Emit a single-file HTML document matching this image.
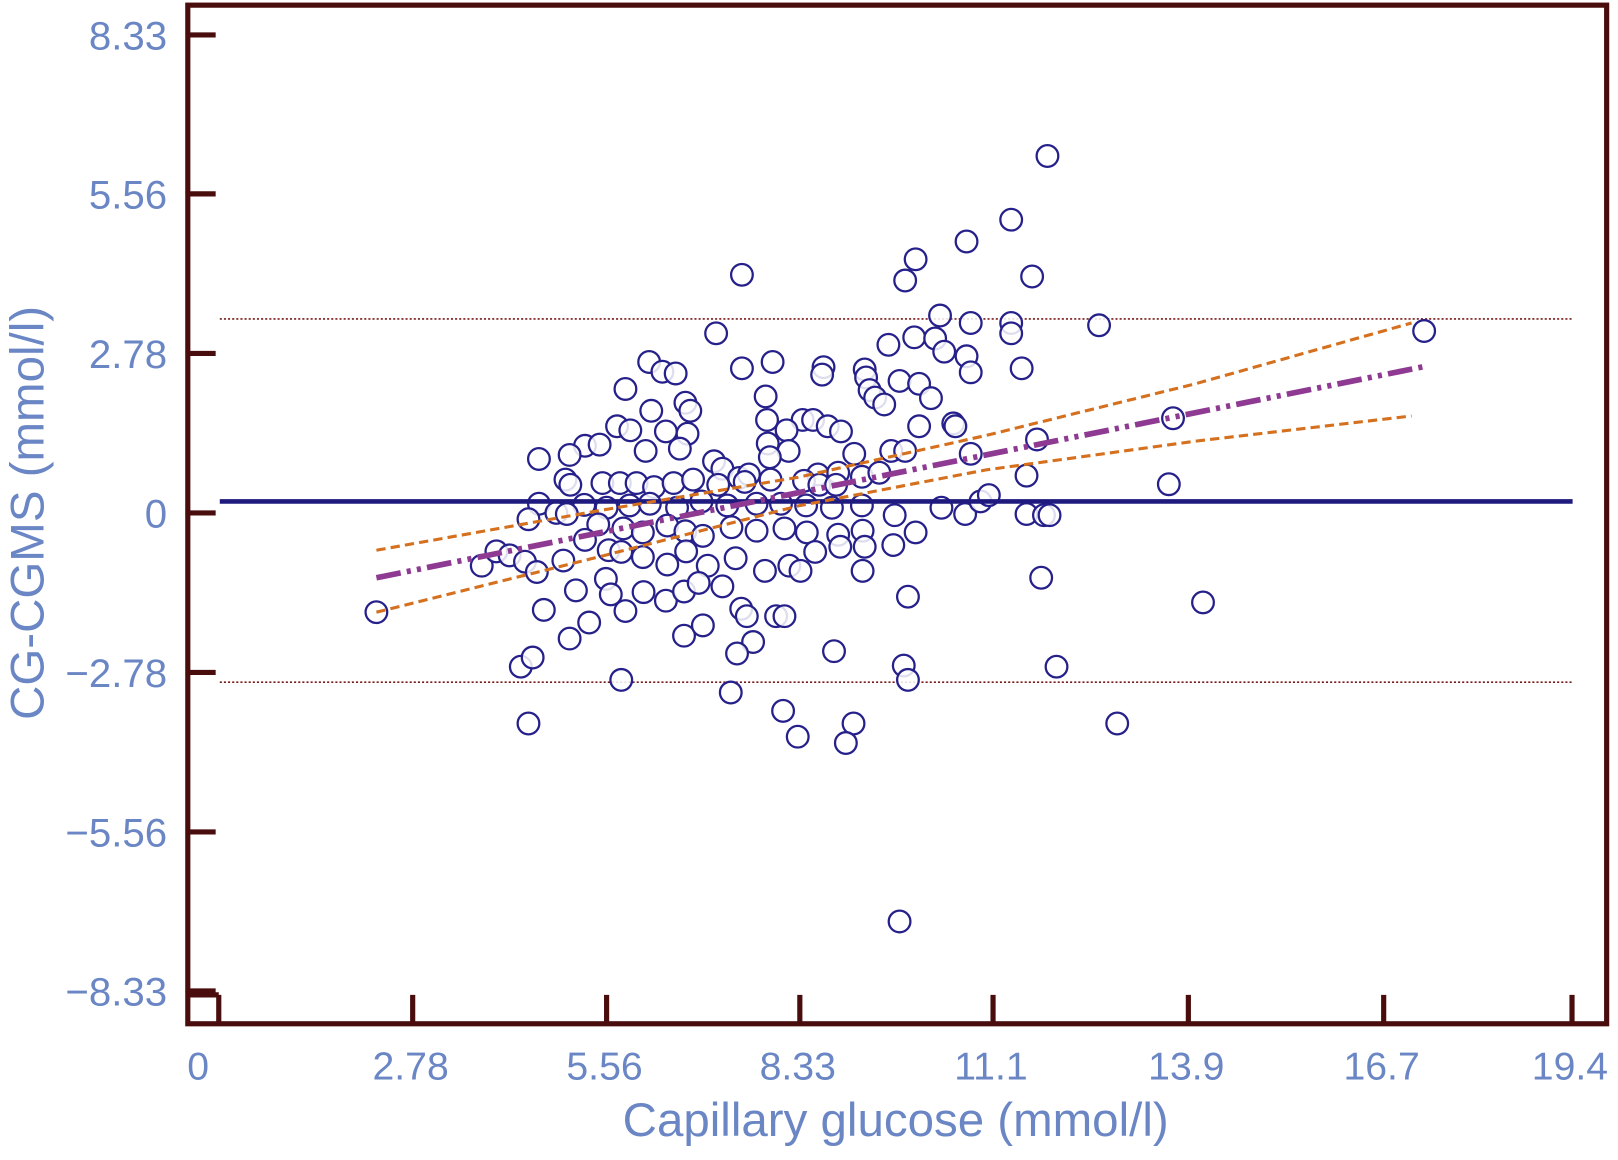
<!DOCTYPE html>
<html><head><meta charset="utf-8"><style>
html,body{margin:0;padding:0;background:#fff;}
svg{display:block;}
text{font-family:"Liberation Sans",sans-serif;fill:#6a86c4;}
</style></head><body>
<svg id="chart" width="1618" height="1160" viewBox="0 0 1568 1124" preserveAspectRatio="none" xmlns="http://www.w3.org/2000/svg">
<g id="g"></g>
</svg>
<script>
const xTicks=[0,2.78,5.56,8.33,11.1,13.9,16.7,19.4];
const xTickLabels=["0","2.78","5.56","8.33","11.1","13.9","16.7","19.4"];
const yTicks=[8.33,5.56,2.78,0,-2.78,-5.56,-8.33];
const yTickLabels=["8.33","5.56","2.78","0","\u22122.78","\u22125.56","\u22128.33"];
const meanDiff=0.2;
const upperLimit=3.38;
const lowerLimit=-2.95;
const regX=[2.26,17.28];
const regY=[-1.13,2.55];
const ciX=[2.26,5.5,8.3,11,14,17.1];
const ciUpper=[-0.65,0.05,0.62,1.35,2.25,3.31];
const ciLower=[-1.73,-0.75,0.12,0.75,1.25,1.69];
const ptX=[11.88,11.36,10.72,9.99,9.84,7.50,11.66,10.34,10.78,11.36,11.36,12.62,17.28,7.13,9.97,9.60,10.27,10.40,10.72,10.78,11.51,6.17,6.36,6.55,7.94,7.50,8.67,8.65,9.26,9.28,9.76,10.04,9.33,9.41,9.54,10.21,5.83,7.84,6.69,6.76,6.20,10.04,10.53,10.56,13.68,5.71,5.90,7.86,8.37,8.52,8.73,8.92,6.41,6.72,8.14,5.25,5.46,6.12,6.61,7.87,8.17,5.03,4.59,9.11,9.64,9.84,10.78,11.73,7.10,7.22,7.46,7.90,7.60,8.59,8.88,4.97,5.04,5.50,5.75,5.99,6.24,6.52,6.80,7.16,7.54,7.91,8.39,8.61,8.85,9.22,9.47,11.58,13.62,4.59,4.84,5.24,5.56,5.89,6.18,6.57,6.92,7.29,7.71,8.06,8.42,8.79,9.22,9.69,10.36,10.70,10.92,11.04,11.58,11.83,11.91,4.44,4.99,5.44,5.80,6.08,6.43,6.69,6.94,7.35,7.71,8.11,8.43,8.88,9.23,9.67,9.99,3.77,3.98,4.17,4.39,4.56,4.94,5.25,5.59,5.77,6.08,6.43,6.70,7.01,7.41,7.83,8.18,8.55,8.91,9.26,5.12,5.55,5.62,5.83,6.09,6.41,6.67,6.88,7.22,7.49,7.57,7.99,8.11,8.34,9.23,9.88,11.79,14.11,4.66,5.03,5.31,6.67,6.94,7.66,7.43,8.82,2.26,4.33,4.50,5.77,7.34,9.82,9.88,12.01,4.44,8.09,8.30,9.10,8.99,12.88,9.76];
const ptY=[6.22,5.11,4.73,4.42,4.05,4.15,4.12,3.44,3.31,3.31,3.13,3.27,3.17,3.13,3.06,2.93,3.04,2.81,2.73,2.45,2.52,2.63,2.46,2.43,2.63,2.52,2.54,2.41,2.50,2.36,2.30,2.25,2.14,2.01,1.89,2.00,2.16,2.03,1.92,1.78,1.78,1.51,1.56,1.51,1.65,1.51,1.44,1.62,1.62,1.62,1.51,1.42,1.42,1.38,1.44,1.17,1.19,1.08,1.12,1.21,1.08,1.01,0.94,1.03,1.08,1.08,1.03,1.28,0.90,0.77,0.61,0.97,0.67,0.67,0.70,0.58,0.49,0.52,0.52,0.52,0.45,0.52,0.58,0.49,0.54,0.58,0.56,0.49,0.49,0.63,0.70,0.65,0.50,0.16,0,0.14,0.09,0.13,0.16,0.09,0.20,0.13,0.16,0.16,0.13,0.09,0.13,-0.04,0.09,-0.02,0.20,0.31,-0.02,-0.04,-0.04,-0.11,-0.02,-0.20,-0.27,-0.34,-0.22,-0.32,-0.40,-0.25,-0.31,-0.27,-0.34,-0.38,-0.31,-0.56,-0.34,-0.92,-0.67,-0.74,-0.85,-1.03,-0.83,-0.47,-0.65,-0.68,-0.77,-0.90,-0.67,-0.92,-0.79,-1.01,-0.92,-0.68,-0.59,-0.59,-1.35,-1.15,-1.42,-1.71,-1.38,-1.53,-1.37,-1.22,-1.28,-1.67,-1.80,-1.80,-1.80,-1.01,-1.01,-1.46,-1.13,-1.56,-1.69,-2.19,-1.91,-2.14,-1.96,-2.25,-2.45,-2.41,-1.73,-2.68,-2.52,-2.91,-3.13,-2.66,-2.91,-2.68,-3.67,-3.45,-3.90,-3.67,-4.01,-3.67,-7.12];

const NS='http://www.w3.org/2000/svg';
const g=document.getElementById('g');
const X0=212,XS=67.6,Y0=497,YS=55.6;
const sx=v=>X0+v*XS, sy=v=>Y0-v*YS;
function mk(tag,attrs){const e=document.createElementNS(NS,tag);for(const k in attrs)e.setAttribute(k,attrs[k]);g.appendChild(e);return e;}

let e=mk('line',{x1:213,x2:1524,y1:sy(upperLimit),y2:sy(upperLimit),stroke:'#7a1a1a','stroke-width':1.6,'stroke-dasharray':'2 2'});


e=mk('line',{x1:213,x2:1524,y1:sy(lowerLimit),y2:sy(lowerLimit),stroke:'#7a1a1a','stroke-width':1.6,'stroke-dasharray':'2 2'});



for(let i=0;i<ptX.length;i++){
  const c=mk('circle',{cx:sx(ptX[i]),cy:sy(ptY[i]),r:10.5,fill:'#fff','fill-opacity':0.85,stroke:'#26208a','stroke-width':2.2});
  
  
}
e=mk('line',{x1:213,x2:1524,y1:sy(meanDiff),y2:sy(meanDiff),stroke:'#1e1a7e','stroke-width':4.5});


const pts=(xs,ys)=>xs.map((v,i)=>sx(v)+','+sy(ys[i])).join(' ');
e=mk('polyline',{points:pts(ciX,ciUpper),fill:'none',stroke:'#d4701e','stroke-width':3,'stroke-dasharray':'9 5'});


e=mk('polyline',{points:pts(ciX,ciLower),fill:'none',stroke:'#d4701e','stroke-width':3,'stroke-dasharray':'9 5'});


e=mk('polyline',{points:pts(regX,regY),fill:'none',stroke:'#8e3a92','stroke-width':5.5,'stroke-dasharray':'24 6 4 6 4 6'});



e=mk('rect',{x:182,y:5,width:1375,height:987,fill:'none',stroke:'#4a0d0d','stroke-width':5});


yTicks.forEach((v,i)=>{
  const t=mk('line',{x1:182,x2:209,y1:sy(v),y2:sy(v),stroke:'#4a0d0d','stroke-width':5});
  
  
  const l=mk('text',{x:162,y:sy(v)+14,'text-anchor':'end','font-size':39});
  l.textContent=yTickLabels[i];
  
  
});
xTicks.forEach((v,i)=>{
  const t=mk('line',{x1:sx(v),x2:sx(v),y1:992,y2:964,stroke:'#4a0d0d','stroke-width':5});
  
  
  const l=mk('text',{x:i===0?192:sx(v)-2,y:1046,'text-anchor':'middle','font-size':38});
  l.textContent=xTickLabels[i];
  
  
});
e=mk('line',{x1:182,x2:212,y1:964,y2:964,stroke:'#4a0d0d','stroke-width':5});


e=mk('text',{x:868,y:1101,'text-anchor':'middle','font-size':46});
e.textContent='Capillary glucose (mmol/l)';


e=mk('text',{x:0,y:0,'text-anchor':'middle','font-size':46,transform:'translate(42,497) rotate(-90)'});
e.textContent='CG-CGMS (mmol/l)';


</script>
</body></html>
